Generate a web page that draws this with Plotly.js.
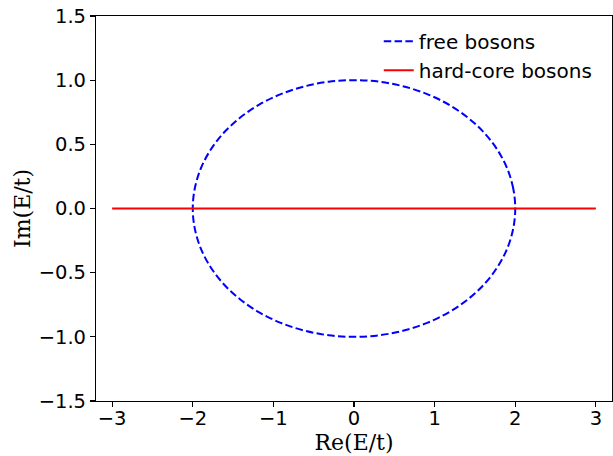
<!DOCTYPE html>
<html>
<head>
<meta charset="utf-8">
<script src="https://cdn.plot.ly/plotly-3.0.1.min.js"></script>
<style>html,body{margin:0;padding:0;background:#fff;}#chart{width:613px;height:456px;}</style>
</head>
<body>
<div id="chart"></div>
<script>
// free bosons spectrum (ellipse)
const freeRe = [2.00, 1.975, 1.902, 1.782, 1.618, 1.414, 1.176, 0.908, 0.618, 0.313, 0.00,
  -0.313, -0.618, -0.908, -1.176, -1.414, -1.618, -1.782, -1.902, -1.975, -2.00,
  -1.975, -1.902, -1.782, -1.618, -1.414, -1.176, -0.908, -0.618, -0.313, 0.00,
  0.313, 0.618, 0.908, 1.176, 1.414, 1.618, 1.782, 1.902, 1.975, 2.00];
const freeIm = [0.00, 0.156, 0.309, 0.454, 0.588, 0.707, 0.809, 0.891, 0.951, 0.988, 1.00,
  0.988, 0.951, 0.891, 0.809, 0.707, 0.588, 0.454, 0.309, 0.156, 0.00,
  -0.156, -0.309, -0.454, -0.588, -0.707, -0.809, -0.891, -0.951, -0.988, -1.00,
  -0.988, -0.951, -0.891, -0.809, -0.707, -0.588, -0.454, -0.309, -0.156, 0.00];
// hard-core bosons spectrum (real line)
const hardRe = [-3, -2, -1, 0, 1, 2, 3];
const hardIm = [0, 0, 0, 0, 0, 0, 0];
const xTicks = [-3, -2, -1, 0, 1, 2, 3];
const yTicks = [-1.5, -1.0, -0.5, 0.0, 0.5, 1.0, 1.5];
const yTickText = ['\u22121.5', '\u22121.0', '\u22120.5', '0.0', '0.5', '1.0', '1.5'];

const traces = [
  {x: freeRe, y: freeIm, type: 'scatter', mode: 'lines', name: 'free bosons',
   line: {color: '#0000ff', width: 2, dash: '7.5px,3.3px', shape: 'spline'}},
  {x: hardRe, y: hardIm, type: 'scatter', mode: 'lines', name: 'hard-core bosons',
   line: {color: '#ff0000', width: 2.1}}
];

const axisCommon = {
  showgrid: false, zeroline: false, showline: true, mirror: true,
  linecolor: '#000', linewidth: 1.1, ticks: 'outside', ticklen: 5, tickwidth: 1.1,
  tickcolor: '#000', tickfont: {family: 'DejaVu Sans', size: 19.5, color: '#000'}
};

const layout = {
  width: 613, height: 456,
  margin: {l: 96, r: 1, t: 16, b: 55},
  paper_bgcolor: '#fff', plot_bgcolor: '#fff',
  showlegend: true,
  legend: {x: 0.548, y: 0.985, xanchor: 'left', yanchor: 'top', bgcolor: 'rgba(0,0,0,0)',
    font: {family: 'DejaVu Sans', size: 20, color: '#000'}},
  xaxis: Object.assign({}, axisCommon, {range: [-3.2, 3.2], tickvals: xTicks, ticklabelstandoff: -6,
    title: {text: 'Re(E/t)', font: {family: 'DejaVu Serif', size: 22, color: '#000'}, standoff: 6}}),
  yaxis: Object.assign({}, axisCommon, {range: [-1.5, 1.5], tickvals: yTicks, ticktext: yTickText,
    title: {text: 'Im(E/t)', font: {family: 'DejaVu Serif', size: 22, color: '#000'}, standoff: 1}})
};

Plotly.newPlot('chart', traces, layout, {displayModeBar: false, staticPlot: true});
</script>
</body>
</html>
